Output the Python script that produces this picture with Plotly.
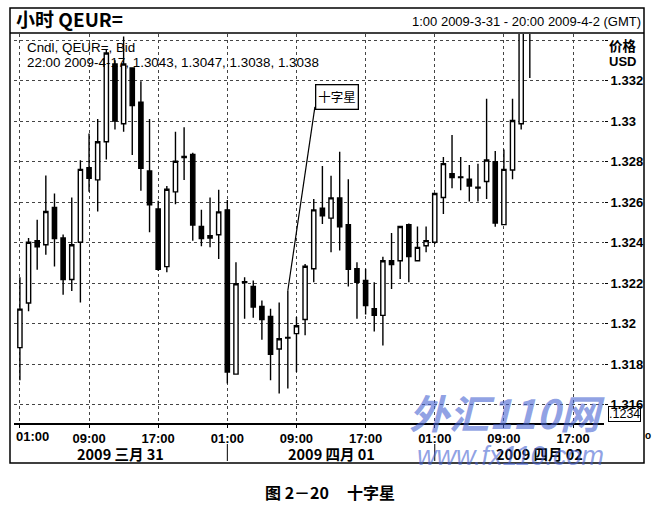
import plotly.graph_objects as go
import pandas as pd

# ---- data (hourly EUR/USD candles, 01:00 2009-03-31 onward) ----
start_time = "2009-03-31 01:00"
opens = [1.31882, 1.32102, 1.32410, 1.32390, 1.32574, 1.32423, 1.32218, 1.32402, 1.32770, 1.32710,
         1.32898, 1.33282, 1.32987, 1.33262, 1.33093, 1.32754, 1.32566, 1.32282, 1.32651, 1.32826,
         1.32836, 1.32480, 1.32423, 1.32439, 1.32562, 1.31751, 1.32207, 1.32184, 1.32085, 1.32036,
         1.31875, 1.31932, 1.31951, 1.32021, 1.32271, 1.32570, 1.32521, 1.32621, 1.32489, 1.32271,
         1.32213, 1.32074, 1.32041, 1.32311, 1.32311, 1.32489, 1.32311, 1.32385, 1.32402, 1.32623,
         1.32741, 1.32725, 1.32713, 1.32674, 1.32702, 1.32800, 1.32489, 1.32759, 1.32987, 1.33580]
highs = [1.32230, 1.32423, 1.32513, 1.32731, 1.32643, 1.32440, 1.32623, 1.32807, 1.32939, 1.33011,
         1.33352, 1.33300, 1.33418, 1.33265, 1.33197, 1.33011, 1.32607, 1.32680, 1.32948, 1.32970,
         1.32844, 1.32562, 1.32623, 1.32661, 1.32611, 1.32303, 1.32230, 1.32213, 1.32115, 1.32074,
         1.32105, 1.32164, 1.32033, 1.32295, 1.32615, 1.32779, 1.32730, 1.32849, 1.32713, 1.32303,
         1.32271, 1.32205, 1.32331, 1.32448, 1.32484, 1.32495, 1.32480, 1.32480, 1.32643, 1.32823,
         1.32931, 1.32823, 1.32784, 1.32790, 1.33111, 1.32852, 1.32860, 1.33111, 1.33600, 1.33900]
lows = [1.31721, 1.32062, 1.32267, 1.32341, 1.32282, 1.32143, 1.32161, 1.32105, 1.32651, 1.32554,
        1.32810, 1.32959, 1.32948, 1.32833, 1.32656, 1.32451, 1.32262, 1.32254, 1.32590, 1.32710,
        1.32410, 1.32382, 1.32377, 1.32320, 1.31705, 1.31750, 1.32025, 1.32030, 1.31921, 1.31721,
        1.31656, 1.31680, 1.31762, 1.31943, 1.32205, 1.32492, 1.32353, 1.32361, 1.32184, 1.32025,
        1.32046, 1.31962, 1.31893, 1.32172, 1.32221, 1.32205, 1.32311, 1.32353, 1.32393, 1.32541,
        1.32669, 1.32659, 1.32603, 1.32603, 1.32615, 1.32479, 1.32489, 1.32713, 1.32959, 1.33213]
closes = [1.32072, 1.32402, 1.32380, 1.32554, 1.32420, 1.32218, 1.32390, 1.32762, 1.32718, 1.32898,
          1.33336, 1.33000, 1.33282, 1.33077, 1.32767, 1.32587, 1.32269, 1.32664, 1.32802, 1.32820,
          1.32487, 1.32420, 1.32434, 1.32552, 1.31762, 1.32197, 1.32203, 1.32082, 1.32020, 1.31849,
          1.31926, 1.31929, 1.31990, 1.32284, 1.32562, 1.32533, 1.32621, 1.32479, 1.32269, 1.32205,
          1.32090, 1.32041, 1.32311, 1.32292, 1.32480, 1.32331, 1.32377, 1.32410, 1.32643, 1.32790,
          1.32721, 1.32722, 1.32680, 1.32670, 1.32808, 1.32497, 1.32762, 1.33003, 1.33550, 1.33800]

times = pd.date_range(start_time, periods=len(opens), freq="h")

x_tick_vals = ["2009-03-31 01:00", "2009-03-31 09:00", "2009-03-31 17:00",
               "2009-04-01 01:00", "2009-04-01 09:00", "2009-04-01 17:00",
               "2009-04-02 01:00", "2009-04-02 09:00", "2009-04-02 17:00"]
x_tick_text = ["01:00", "09:00", "17:00"] * 3
y_tick_vals = [1.316, 1.318, 1.320, 1.322, 1.324, 1.326, 1.328, 1.330, 1.332, 1.334]
y_tick_text = ["1.316", "1.318", "1.32", "1.322", "1.324", "1.326", "1.328", "1.33", "1.332", ""]
day_labels = ["2009 三月 31", "2009 四月 01", "2009 四月 02"]
day_label_pos = ["2009-03-31 12:35", "2009-04-01 13:06", "2009-04-02 13:10"]
day_breaks = ["2009-04-01 01:00", "2009-04-02 01:00"]
doji_index = 31  # the 十字星 candle

FONT = "Liberation Sans, Arial, Noto Sans CJK SC, sans-serif"
CJK = "Noto Sans CJK SC, Liberation Sans, sans-serif"

fig = go.Figure()
fig.add_trace(go.Candlestick(
    x=times, open=opens, high=highs, low=lows, close=closes,
    increasing=dict(line=dict(color="black", width=1.4), fillcolor="white"),
    decreasing=dict(line=dict(color="black", width=1.4), fillcolor="black"),
    whiskerwidth=0, showlegend=False, hoverinfo="skip",
))

W, H = 659, 510
L, R, T, B = 14, 55, 34, 87
pw, ph = W - L - R, H - T - B


def px(X):
    return (X - L) / pw


def py(Y):
    return (H - B - Y) / ph


annotations = []
shapes = []

# title & header
annotations.append(dict(xref="paper", yref="paper", x=px(14), y=py(19), xanchor="left", yanchor="middle",
                        text="<b>小时 QEUR=</b>", showarrow=False, font=dict(family=CJK, size=19, color="black")))
annotations.append(dict(xref="paper", yref="paper", x=px(643), y=py(21), xanchor="right", yanchor="middle",
                        text="1:00 2009-3-31 - 20:00 2009-4-2 (GMT)", showarrow=False,
                        font=dict(family=FONT, size=13, color="black")))
# info lines
annotations.append(dict(xref="paper", yref="paper", x=px(25), y=py(47), xanchor="left", yanchor="middle",
                        text="Cndl, QEUR=, Bid", showarrow=False, font=dict(family=FONT, size=13.4, color="black")))
annotations.append(dict(xref="paper", yref="paper", x=px(25), y=py(63), xanchor="left", yanchor="middle",
                        text="22:00 2009-4-17, 1.3043, 1.3047, 1.3038, 1.3038", showarrow=False,
                        font=dict(family=FONT, size=13.4, color="black")))
# right axis heading
annotations.append(dict(xref="paper", yref="paper", x=px(607), y=py(45), xanchor="left", yanchor="middle",
                        text="<b>价格</b>", showarrow=False, font=dict(family=CJK, size=13.5, color="black")))
annotations.append(dict(xref="paper", yref="paper", x=px(607), y=py(61), xanchor="left", yanchor="middle",
                        text="<b>USD</b>", showarrow=False, font=dict(family=FONT, size=13, color="black")))
annotations.append(dict(xref="paper", yref="paper", x=px(624), y=py(414), xanchor="center", yanchor="middle",
                        text=".1234", showarrow=False, bordercolor="black", borderwidth=1, borderpad=0,
                        font=dict(family=FONT, size=12.5, color="black")))
annotations.append(dict(xref="paper", yref="paper", x=px(648), y=py(435), xanchor="center", yanchor="middle",
                        text="<b>o</b>", showarrow=False, font=dict(family=FONT, size=10, color="black")))
# first tick label pushed inside the frame (as in the reference)
annotations.append(dict(xref="paper", yref="paper", x=px(32), y=py(436), xanchor="center", yanchor="middle",
                        text="<b>" + x_tick_text[0] + "</b>", showarrow=False,
                        font=dict(family=FONT, size=13, color="black")))
# date labels
for lab, pos in zip(day_labels, day_label_pos):
    annotations.append(dict(xref="x", yref="paper", x=pos, y=py(453), xanchor="center", yanchor="middle",
                            text="<b>" + lab + "</b>", showarrow=False, font=dict(family=CJK, size=14.5, color="black")))
for db in day_breaks:
    shapes.append(dict(type="line", xref="x", yref="paper", x0=db, x1=db, y0=py(444), y1=py(461),
                       line=dict(color="black", width=1)))
# 十字星 callout
annotations.append(dict(xref="paper", yref="paper", x=px(337), y=py(96.5), xanchor="center", yanchor="middle",
                        text="十字星", showarrow=False, bgcolor="white", bordercolor="black", borderwidth=1.3,
                        borderpad=2, font=dict(family=CJK, size=12.5, color="black")))
shapes.append(dict(type="line", xref="x", yref="y", x0=times[doji_index], y0=highs[doji_index],
                   x1="2009-04-01 11:08", y1=1.3307, line=dict(color="black", width=1.2)))
# caption
annotations.append(dict(xref="paper", yref="paper", x=px(330), y=py(492), xanchor="center", yanchor="middle",
                        text="<b>图 2－20\u00a0\u00a0\u00a0\u00a0 十字星</b>", showarrow=False,
                        font=dict(family=CJK, size=16, color="black")))
# watermark
annotations.append(dict(xref="paper", yref="paper", x=px(507), y=py(412), xanchor="center", yanchor="middle",
                        text="<b><i>外汇110网</i></b>", showarrow=False,
                        font=dict(family=CJK, size=40, color="rgba(70,100,210,0.6)")))
annotations.append(dict(xref="paper", yref="paper", x=px(510), y=py(456), xanchor="center", yanchor="middle",
                        text="<i>www.fx110.com</i>", showarrow=False,
                        font=dict(family=FONT, size=27, color="rgba(70,100,210,0.6)")))

# frame
shapes.append(dict(type="rect", xref="paper", yref="paper", x0=px(10), x1=px(644), y0=py(463), y1=py(8),
                   line=dict(color="black", width=1.5)))
shapes.append(dict(type="line", xref="paper", yref="paper", x0=px(10), x1=px(644), y0=py(33), y1=py(33),
                   line=dict(color="black", width=1.5)))

fig.update_layout(
    width=W, height=H,
    margin=dict(l=L, r=R, t=T, b=B),
    paper_bgcolor="white", plot_bgcolor="white",
    font=dict(family=FONT, size=12, color="black"),
    annotations=annotations, shapes=shapes,
    showlegend=False,
)
fig.update_xaxes(
    type="date", range=["2009-03-31 00:19", "2009-04-02 20:35"],
    rangeslider=dict(visible=False),
    tickvals=x_tick_vals, ticktext=[""] + ["<b>" + t + "</b>" for t in x_tick_text[1:]],
    showgrid=True, gridcolor="#444444", griddash="dot", gridwidth=1,
    showline=True, linecolor="black", linewidth=1.5,
    ticks="outside", ticklen=3, tickcolor="black",
    tickfont=dict(family=FONT, size=13, color="black"),
    zeroline=False,
)
fig.update_yaxes(
    side="right", range=[1.3151, 1.3343],
    tickvals=y_tick_vals, ticktext=["<b>" + t + "</b>" if t else "" for t in y_tick_text],
    showgrid=True, gridcolor="#444444", griddash="dot", gridwidth=1,
    showline=False, ticks="outside", ticklen=3, tickcolor="black",
    tickfont=dict(family=FONT, size=13, color="black"),
    zeroline=False,
)

fig.write_html("out.html", config={"displayModeBar": False},
               post_script="document.body.style.margin='0';")
